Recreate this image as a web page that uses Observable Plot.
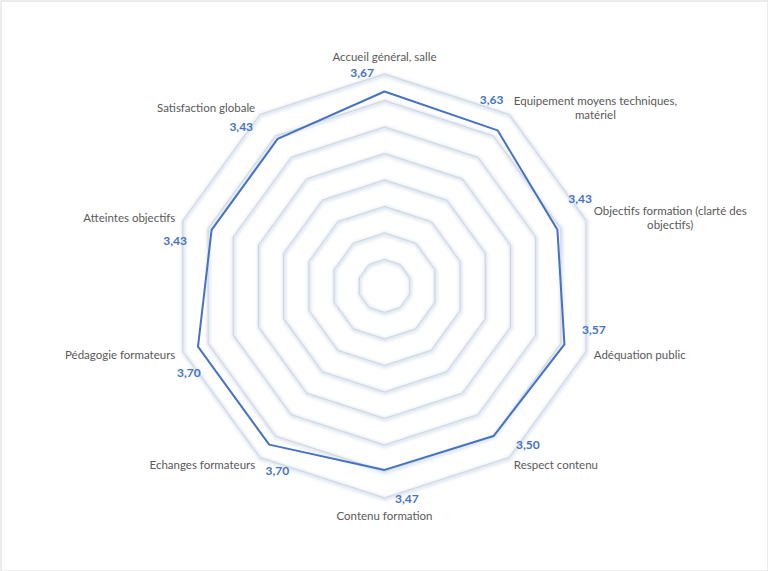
<!DOCTYPE html>
<html>
<head>
<meta charset="utf-8">
<script src="https://cdn.jsdelivr.net/npm/d3@7"></script>
<script src="https://cdn.jsdelivr.net/npm/@observablehq/plot@0.6"></script>
<style>
  html, body { margin: 0; padding: 0; background: #fff; }
  #chart { width: 768px; height: 571px; }
</style>
</head>
<body>
<div id="chart"></div>
<script>
// ---- data ----
const categories = [
  "Accueil général, salle",
  "Equipement moyens techniques,\nmatériel",
  "Objectifs formation (clarté des\nobjectifs)",
  "Adéquation public",
  "Respect contenu",
  "Contenu formation",
  "Echanges formateurs",
  "Pédagogie formateurs",
  "Atteintes objectifs",
  "Satisfaction globale"
];
const values = [3.67, 3.63, 3.43, 3.57, 3.50, 3.47, 3.70, 3.70, 3.43, 3.43];
const ringLevels = [0.5, 1, 1.5, 2, 2.5, 3, 3.5, 4];
const maxValue = 4;

// ---- derived tables ----
const n = categories.length;
const ang = i => (i % n) * 2 * Math.PI / n;
const polar = (r, a) => ({x: r * Math.sin(a), y: r * Math.cos(a)});

const rings = ringLevels.flatMap(level =>
  d3.range(n + 1).map(i => ({level, ...polar(level, ang(i))}))
);
const series = d3.range(n + 1).map(i => ({value: values[i % n], ...polar(values[i % n], ang(i))}));

const fmt = v => v.toFixed(2).replace(".", ",");

const FONT = "Lato, 'Noto Sans', sans-serif";
const FS = 11.5;
const ctx = document.createElement("canvas").getContext("2d");
ctx.font = `${FS}px Lato`;
const widest = s => d3.max(s.split("\n"), l => ctx.measureText(l).width);

// category labels: one text mark each, anchored at the outer ring vertex
const catMarks = categories.map((c, i) => {
  const a = ang(i);
  const s = Math.sin(a), co = Math.cos(a);
  const p = polar(maxValue, a);
  const w = widest(c);
  const side = Math.abs(s) < 0.1 ? 0 : Math.sign(s);
  const dx = s * 8 + side * w / 2;
  const dy = -co * 9 - (side === 0 ? co * 8.5 : 0);
  return Plot.text([c], {
    x: () => p.x, y: () => p.y, text: d => d,
    dx, dy, textAnchor: "middle", lineAnchor: "middle",
    lineHeight: 1.22, fill: "#595959", fontSize: FS, fontFamily: FONT
  });
});

// value labels near the outer ring
const valueLabels = values.map((v, i) => ({label: fmt(v), ...polar(maxValue * 1.01, ang(i) - 6 * Math.PI / 180)}));

const chart = Plot.plot({
  width: 768,
  height: 571,
  margin: 0,
  x: {type: "linear", domain: [-maxValue, maxValue], range: [172, 596], axis: null},
  y: {type: "linear", domain: [-maxValue, maxValue], range: [497.5, 73.5], axis: null},
  style: {background: "#fff", fontFamily: FONT},
  marks: [
    Plot.frame({stroke: "#d9d9d9", inset: 0.5}),
    Plot.line(rings, {x: "x", y: "y", z: "level", stroke: "#c3d3ef", strokeWidth: 4, strokeOpacity: 0.55, dx: 0.5, dy: 1}),
    Plot.line(rings, {x: "x", y: "y", z: "level", stroke: "#d3d3d3", strokeWidth: 1}),
    Plot.line(series, {x: "x", y: "y", stroke: "#4472c4", strokeWidth: 2, strokeLinejoin: "miter"}),
    ...catMarks,
    Plot.text(valueLabels, {x: "x", y: "y", text: "label", fill: "#4472c4", fontWeight: "bold", fontSize: 12, fontFamily: FONT, textAnchor: "middle", lineAnchor: "middle"})
  ]
});
const lineGroups = chart.querySelectorAll('g[aria-label="line"]');
if (lineGroups[0]) lineGroups[0].style.filter = "blur(1.5px)";
document.getElementById("chart").appendChild(chart);
</script>
</body>
</html>
